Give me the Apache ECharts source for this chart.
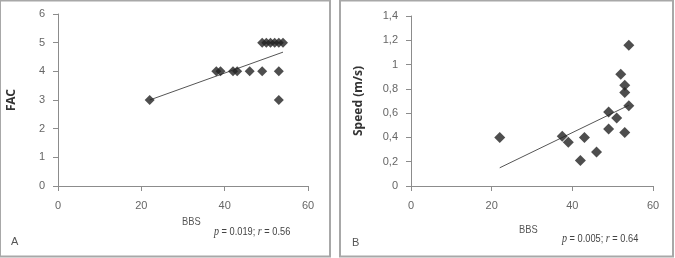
<!DOCTYPE html>
<html>
<head>
<meta charset="utf-8">
<script src="https://cdn.jsdelivr.net/npm/echarts@6/dist/echarts.min.js"></script>
<style>
  html, body { margin: 0; padding: 0; background: #fff; }
  #main { width: 675px; height: 258px; }
</style>
</head>
<body>
<div id="main"></div>
<script>
// panel A: BBS vs FAC
var bbsA = [22, 38, 39, 42, 43, 46, 49, 53, 49, 50, 51, 52, 53, 54, 53];
var facA = [3, 4, 4, 4, 4, 4, 4, 4, 5, 5, 5, 5, 5, 5, 3];
var trendA = [[22, 3.0], [54, 4.67]];

// panel B: BBS vs speed
var bbsB = [22, 37.5, 39, 43, 42, 46, 49, 49, 51, 52, 53, 53, 53, 54, 54];
var speedB = [0.40, 0.41, 0.36, 0.40, 0.21, 0.28, 0.61, 0.47, 0.56, 0.92, 0.83, 0.77, 0.44, 0.66, 1.16];
var trendB = [[22, 0.15], [54, 0.665]];

function pairs(xs, ys) {
    return xs.map(function (x, i) { return [x, ys[i]]; });
}

var font = '"Liberation Sans Narrow", "Liberation Sans", Arial, sans-serif';
var axisColor = '#8c8c8c';
var labelColor = '#666';

function xAxisCfg(gridIndex) {
    return {
        type: 'value', gridIndex: gridIndex, min: 0, max: 60, interval: 20,
        splitLine: { show: false },
        axisLine: { lineStyle: { color: axisColor } },
        axisTick: { length: 5, lineStyle: { color: axisColor } },
        axisLabel: { color: labelColor, fontFamily: font, fontSize: 11, margin: 14 }
    };
}

function yAxisCfg(gridIndex, max, interval, name, gap, fmt) {
    return {
        type: 'value', gridIndex: gridIndex, min: 0, max: max, interval: interval,
        name: name, nameLocation: 'middle', nameGap: gap, nameRotate: 90,
        nameTextStyle: { color: '#333', fontWeight: 'bold', fontSize: 12, fontFamily: '"Noto Sans", sans-serif' },
        splitLine: { show: false },
        axisLine: { show: true, lineStyle: { color: axisColor } },
        axisTick: { show: true, length: 5, lineStyle: { color: axisColor } },
        axisLabel: { color: labelColor, fontFamily: font, fontSize: 11, margin: 13, formatter: fmt }
    };
}

function pText(x, y, str) {
    return {
        type: 'text', x: x, y: y, scaleX: 0.84,
        style: {
            text: str, fill: '#444', font: '11px ' + font,
            rich: { i: { fontStyle: 'italic', fontFamily: '"Liberation Serif", serif', fontSize: 12, fill: '#444' } }
        }
    };
}

var myChart = echarts.init(document.getElementById('main'));
var option = {
    animation: false,
    grid: [
        { left: 58, right: 367, top: 14, bottom: 72 },
        { left: 411, right: 22, top: 16, bottom: 72 }
    ],
    xAxis: [xAxisCfg(0), xAxisCfg(1)],
    yAxis: [
        yAxisCfg(0, 6, 1, 'FAC', 40, function (v) { return v; }),
        yAxisCfg(1, 1.4, 0.2, 'Speed (m/s)', 46, function (v) { return String(+v.toFixed(1)).replace('.', ','); })
    ],
    series: [
        {
            type: 'line', xAxisIndex: 0, yAxisIndex: 0, data: trendA,
            symbol: 'none', lineStyle: { color: '#555', width: 1 }, z: 1
        },
        {
            type: 'scatter', xAxisIndex: 0, yAxisIndex: 0, data: pairs(bbsA, facA),
            symbol: 'diamond', symbolSize: 10, itemStyle: { color: '#222' }, z: 2
        },
        {
            type: 'line', xAxisIndex: 1, yAxisIndex: 1, data: trendB,
            symbol: 'none', lineStyle: { color: '#555', width: 1 }, z: 1
        },
        {
            type: 'scatter', xAxisIndex: 1, yAxisIndex: 1, data: pairs(bbsB, speedB),
            symbol: 'diamond', symbolSize: 11, itemStyle: { color: '#222' }, z: 2
        }
    ],
    graphic: [
        { type: 'rect', shape: { x: 0, y: 0.5, width: 330, height: 256 }, style: { fill: 'none', stroke: '#a8a8a8', lineWidth: 2 } },
        { type: 'rect', shape: { x: 340, y: 0.5, width: 333, height: 256 }, style: { fill: 'none', stroke: '#a8a8a8', lineWidth: 2 } },
        { type: 'text', x: 182, y: 216, scaleX: 0.85, style: { text: 'BBS', fill: '#555', font: '11px ' + font } },
        { type: 'text', x: 519, y: 224, scaleX: 0.85, style: { text: 'BBS', fill: '#555', font: '11px ' + font } },
        { type: 'text', x: 11, y: 236, style: { text: 'A', fill: '#555', font: '11px ' + font } },
        { type: 'text', x: 352, y: 237, style: { text: 'B', fill: '#555', font: '11px ' + font } },
        pText(214, 226, '{i|p} = 0.019; {i|r} = 0.56'),
        pText(562, 233, '{i|p} = 0.005; {i|r} = 0.64')
    ]
};
myChart.setOption(option);
</script>
</body>
</html>
